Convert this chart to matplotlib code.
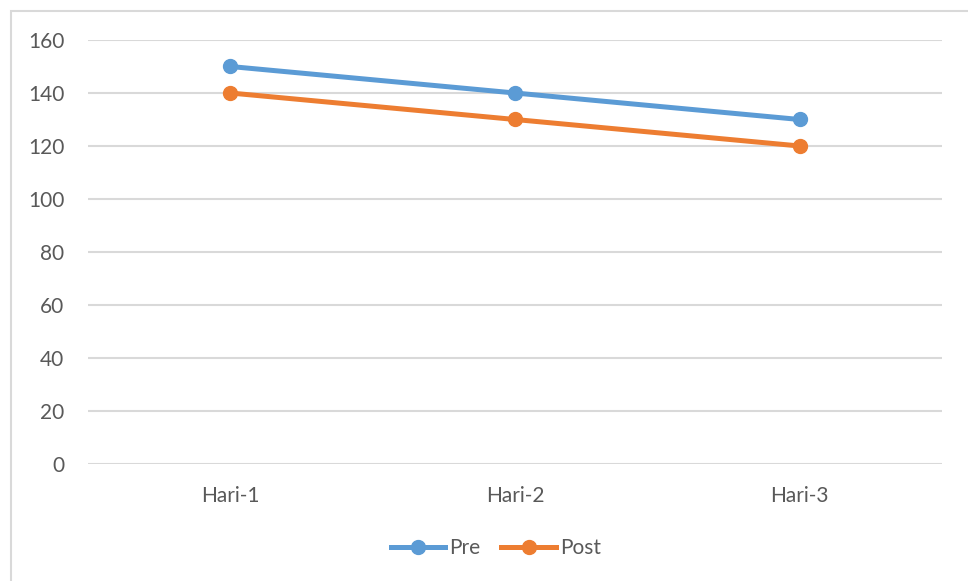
import matplotlib
matplotlib.use("Agg")
import matplotlib.pyplot as plt
from matplotlib.patches import Rectangle
from matplotlib.lines import Line2D

categories = ["Hari-1", "Hari-2", "Hari-3"]
pre = [150, 140, 130]
post = [140, 130, 120]
y_ticks = [0, 20, 40, 60, 80, 100, 120, 140, 160]

plt.rcParams['font.family'] = ['Lato', 'DejaVu Sans']

W, H = 968, 581
fig = plt.figure(figsize=(W / 100, H / 100), dpi=100)

# chart frame
fig.patches.append(Rectangle((11 / W, -0.1), 1.2, 1 - 11 / H + 0.1,
                             transform=fig.transFigure, fill=False,
                             edgecolor="#d9d9d9", linewidth=1.5))

ax = fig.add_axes([88 / W, 1 - 464 / H, (942 - 88) / W, (464 - 40) / H])
x = list(range(len(categories)))

blue, orange = "#5B9BD5", "#ED7D31"
ax.plot(x, pre, color=blue, lw=3.6, marker="o", ms=10, solid_capstyle="round",
        label="Pre", zorder=3)
ax.plot(x, post, color=orange, lw=3.6, marker="o", ms=10, solid_capstyle="round",
        label="Post", zorder=3)

ax.set_xlim(-0.5, 2.5)
ax.set_ylim(0, 160)
ax.set_yticks(y_ticks)
ax.set_xticks(x)
ax.set_xticklabels(categories)
ax.yaxis.grid(True, color="#d9d9d9", lw=1.5)
ax.set_axisbelow(True)
for s in ax.spines.values():
    s.set_visible(False)
ax.tick_params(length=0, labelsize=15, colors="#595959")
ax.tick_params(axis="y", pad=17)
ax.tick_params(axis="x", pad=16)

handles = [Line2D([], [], color=blue, lw=3.6, marker="o", ms=10),
           Line2D([], [], color=orange, lw=3.6, marker="o", ms=10)]
fig.legend(handles, ["Pre", "Post"], loc="center", bbox_to_anchor=(496 / W, 1 - 548 / H),
           ncol=2, frameon=False, fontsize=15, labelcolor="#595959",
           handlelength=2.6, handletextpad=0.2, columnspacing=1.0)

fig.savefig("out.png", dpi=100)
